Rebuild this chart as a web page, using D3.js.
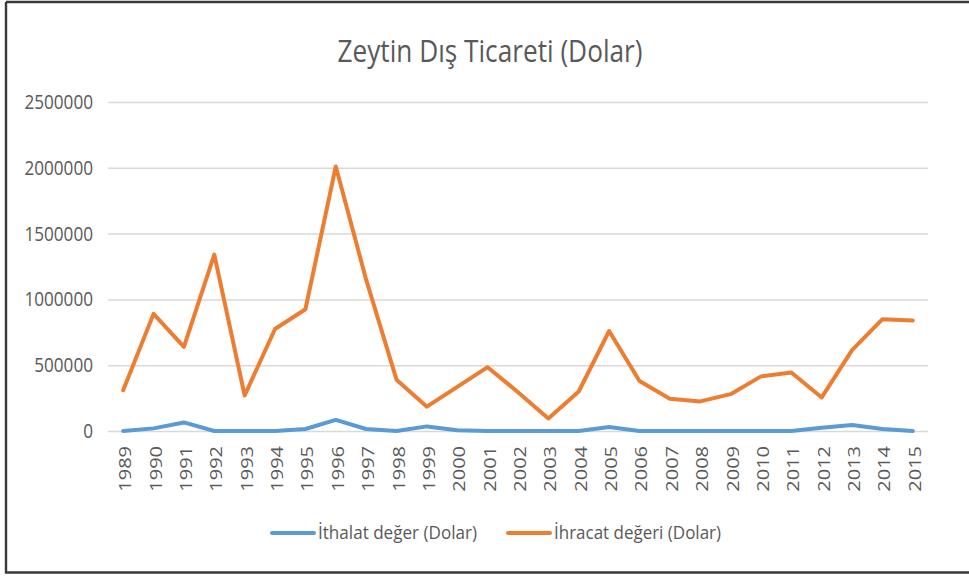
<!DOCTYPE html>
<html>
<head>
<meta charset="utf-8">
<script src="https://cdn.jsdelivr.net/npm/d3@7"></script>
<style>
    body { margin: 0; background: #fff; }
    text { font-family: "Liberation Sans Narrow", "Open Sans", sans-serif; fill: #595959; }
</style>
</head>
<body>
<svg id="svg" width="969" height="577"></svg>
<script>
var years = [1989, 1990, 1991, 1992, 1993, 1994, 1995, 1996, 1997, 1998,
    1999, 2000, 2001, 2002, 2003, 2004, 2005, 2006, 2007, 2008,
    2009, 2010, 2011, 2012, 2013, 2014, 2015];
var ithalat = [0, 20000, 65000, 0, 0, 0, 15000, 85000, 15000, 0,
    35000, 5000, 0, 0, 0, 0, 30000, 0, 0, 0,
    0, 0, 0, 25000, 45000, 15000, 0];
var ihracat = [310000, 890000, 640000, 1340000, 270000, 775000, 925000, 2010000, 1150000, 390000,
    185000, 335000, 485000, 295000, 95000, 300000, 760000, 380000, 245000, 225000,
    280000, 415000, 445000, 255000, 615000, 850000, 840000];
var yTicks = [0, 500000, 1000000, 1500000, 2000000, 2500000];
var seriesNames = ['İthalat değer (Dolar)', 'İhracat değeri (Dolar)'];
var seriesColors = ['#5b9bd5', '#ed7d31'];
var title = 'Zeytin Dış Ticareti (Dolar)';

var dg = {};
dg.dimensions = [969, 577];
dg.plot = { left: 108, right: 928, top: 102, bottom: 431 };

function dg_chart_init() {
    var svg = d3.select('#svg');

    // frame of the screenshot
    svg.append('path')
        .attr('d', 'M6,2 H969 M6,2 V572.5 H969')
        .attr('fill', 'none')
        .attr('stroke', '#3a3a3a')
        .attr('stroke-width', 2.4);

    svg.append('text')
        .attr('x', 490)
        .attr('y', 62)
        .attr('text-anchor', 'middle')
        .attr('font-size', 31)
        .attr('textLength', 305)
        .attr('lengthAdjust', 'spacingAndGlyphs')
        .text(title);

    dg.x = d3.scaleBand()
        .domain(years)
        .range([dg.plot.left, dg.plot.right]);
    dg.y = d3.scaleLinear()
        .domain([0, 2500000])
        .range([dg.plot.bottom, dg.plot.top]);

    var yAxis = svg.append('g')
        .attr('transform', 'translate(' + dg.plot.left + ',0)')
        .call(d3.axisLeft(dg.y)
            .tickValues(yTicks)
            .tickSize(-(dg.plot.right - dg.plot.left))
            .tickPadding(15)
            .tickFormat(d3.format('d')));
    yAxis.select('.domain').remove();
    yAxis.selectAll('line')
        .attr('stroke', '#d9d9d9')
        .attr('stroke-width', 1.5);
    yAxis.selectAll('text')
        .attr('font-size', 20)
        .attr('fill', '#595959')
        .attr('font-family', null)
        .attr('textLength', function(d) { return String(d).length * 9.8; })
        .attr('lengthAdjust', 'spacingAndGlyphs');

    var xAxis = svg.append('g')
        .attr('transform', 'translate(0,' + dg.plot.bottom + ')')
        .call(d3.axisBottom(dg.x).tickSize(0).tickPadding(0));
    xAxis.select('.domain').remove();
    // rotated year labels, squeezed across like the screenshot
    xAxis.selectAll('text')
        .attr('font-size', 20)
        .attr('fill', '#595959')
        .attr('font-family', null)
        .attr('text-anchor', 'end')
        .attr('dy', null)
        .attr('y', 0)
        .attr('transform', 'translate(8,15) rotate(-90) scale(1,0.78)');

    var line = d3.line()
        .x(function(d, i) { return dg.x(years[i]) + dg.x.bandwidth() / 2; })
        .y(function(d) { return dg.y(d); });

    [ithalat, ihracat].forEach(function(values, k) {
        svg.append('path')
            .datum(values)
            .attr('d', line)
            .attr('fill', 'none')
            .attr('stroke', seriesColors[k])
            .attr('stroke-width', 4)
            .attr('stroke-linejoin', 'round')
            .attr('stroke-linecap', 'round');
    });

    var legendX = [272, 508];
    var legendW = [159, 167];
    var legend = svg.append('g');
    seriesNames.forEach(function(name, k) {
        legend.append('line')
            .attr('x1', legendX[k])
            .attr('x2', legendX[k] + 42)
            .attr('y1', 533)
            .attr('y2', 533)
            .attr('stroke', seriesColors[k])
            .attr('stroke-width', 4)
            .attr('stroke-linecap', 'round');
        legend.append('text')
            .attr('x', legendX[k] + 46)
            .attr('y', 539)
            .attr('font-size', 19)
            .attr('textLength', legendW[k])
            .attr('lengthAdjust', 'spacingAndGlyphs')
            .text(name);
    });
}

dg_chart_init();
</script>
</body>
</html>
